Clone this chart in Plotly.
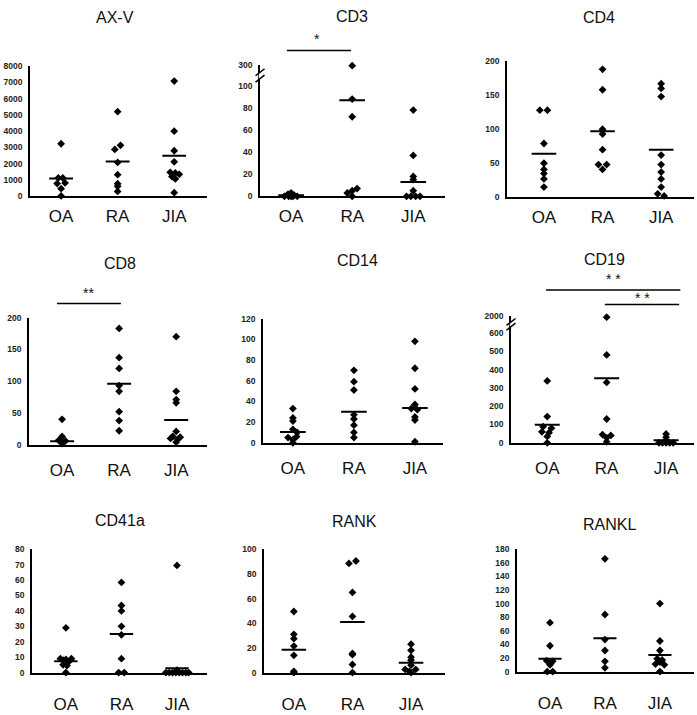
import plotly.graph_objects as go

W, H = 697, 715

groups = ["OA", "RA", "JIA"]

# ---------------- data ----------------
axv_oa = [3230, 1130, 1130, 820, 780, 470, 20]
axv_ra = [5200, 3130, 2880, 2080, 1330, 770, 610, 300]
axv_jia = [7080, 4000, 2800, 2120, 1470, 1430, 1350, 1210, 1070, 220]
axv_mean = [1090, 2140, 2490]

cd3_oa = [3, 2, 1, 0, 0, 0, 0, 0]
cd3_ra = [295, 88, 72, 7, 5, 3, 0]
cd3_jia = [78, 37, 18, 15, 5, 0, 0, 0, 0]
cd3_mean = [1, 87, 13]

cd4_oa = [128, 128, 79, 50, 41, 35, 27, 15]
cd4_ra = [188, 158, 100, 93, 70, 48, 48, 41]
cd4_jia = [167, 160, 148, 62, 48, 37, 27, 15, 5, 2]
cd4_mean = [64, 97, 70]

cd8_oa = [40, 13, 7, 6, 5, 2]
cd8_ra = [183, 137, 120, 93, 84, 52, 38, 22]
cd8_jia = [170, 84, 71, 66, 21, 13, 12, 10, 9, 4]
cd8_mean = [5.5, 96, 39]

cd14_oa = [33, 24, 21, 13, 10, 5, 6, 3, 0]
cd14_ra = [70, 59, 51, 27, 23, 17, 10, 5]
cd14_jia = [98, 72, 52, 37, 33, 32, 25, 22, 1]
cd14_mean = [10.5, 30, 33.5]

cd19_oa = [338, 143, 88, 80, 60, 55, 35, 0]
cd19_ra = [1870, 480, 330, 130, 45, 40, 27, 5]
cd19_jia = [48, 30, 12, 3, 0, 0, 0, 0, 0]
cd19_mean = [98, 352, 14]

cd41a_oa = [29, 9, 9, 8.5, 8, 7, 5, 4.5, 0]
cd41a_ra = [58.5, 43.5, 40, 30, 24.5, 9, 0, 0]
cd41a_jia = [69.5, 1.5, 0, 0, 0, 0, 0, 0, 0, 0]
cd41a_mean = [7.3, 25, 2.7]

rank_oa = [49.5, 31, 27.5, 21.5, 14, 1, 0]
rank_ra = [88.5, 90.5, 65, 45.5, 15.5, 14.5, 6.5, 0]
rank_jia = [23, 18, 12.5, 10, 6, 2.5, 2.5, 1, 0]
rank_mean = [18.5, 41, 8]

rankl_oa = [72, 38, 16, 15, 10, 0, 0]
rankl_ra = [166, 84, 47, 31, 15, 5.5]
rankl_jia = [100, 45, 31, 19, 17, 14, 11, 10, 0]
rankl_mean = [19, 49, 24.5]

# y tick values
axv_ticks = [0, 1000, 2000, 3000, 4000, 5000, 6000, 7000, 8000]
cd3_ticks = [0, 20, 40, 60, 80, 100, 300]
cd4_ticks = [0, 50, 100, 150, 200]
cd8_ticks = [0, 50, 100, 150, 200]
cd14_ticks = [0, 20, 40, 60, 80, 100, 120]
cd19_ticks = [0, 100, 200, 300, 400, 500, 600, 2000]
cd41a_ticks = [0, 10, 20, 30, 40, 50, 60, 70, 80]
rank_ticks = [0, 20, 40, 60, 80, 100]
rankl_ticks = [0, 20, 40, 60, 80, 100, 120, 140, 160, 180]

# ---------------- horizontal jitter (positions, kept apart) ----------------
jit = {
    "AX-V": [[0, -0.05, 0.03, 0.07, -0.07, 0, 0],
             [0, 0.05, -0.05, 0, 0, 0, 0, 0],
             [0, 0, 0, 0, -0.07, 0.02, 0.09, -0.04, 0.02, 0]],
    "CD3": [[0, -0.05, 0.05, -0.11, -0.04, 0.03, 0.1, 0],
            [0, 0, 0, 0.08, 0, -0.08, 0],
            [0, 0, 0, 0, 0, -0.11, -0.04, 0.04, 0.11]],
    "CD4": [[-0.07, 0.06, 0, 0, 0, 0, 0, 0],
            [0, 0, 0, 0, 0, -0.07, 0.07, 0],
            [0, 0, 0, 0, 0, 0, 0, 0, -0.06, 0.05]],
    "CD8": [[0, 0, -0.06, 0.06, 0, 0],
            [0, 0, 0, 0, 0, 0, 0, 0],
            [0, 0, 0, 0, 0, -0.06, 0.07, -0.1, 0.03, 0]],
    "CD14": [[0, 0, 0, 0, 0.07, -0.08, 0.06, 0, 0],
             [0, 0, 0, 0, 0, 0, 0, 0],
             [0, 0, 0, 0, -0.06, 0.04, 0, 0, 0]],
    "CD19": [[0, 0, -0.07, 0.07, -0.09, 0.03, 0, 0],
             [0, 0, 0, 0, -0.07, 0.07, 0, 0],
             [0, 0, 0, 0, -0.12, -0.06, 0, 0.06, 0.12]],
    "CD41a": [[0, -0.1, 0.1, 0, -0.05, 0.05, -0.05, 0.02, 0],
              [0, 0, 0, 0, 0, 0, -0.05, 0.05],
              [0, 0, -0.2, -0.14, -0.08, -0.02, 0.04, 0.1, 0.16, 0.21]],
    "RANK": [[0, 0, 0, 0, 0, 0, 0],
             [-0.06, 0.06, 0, 0, 0, 0, 0, 0],
             [0, 0, 0, 0, 0, -0.1, 0.08, -0.03, 0]],
    "RANKL": [[0, 0, -0.06, 0.05, 0, -0.05, 0.05],
              [0, 0, 0, 0, 0, 0],
              [0, 0, 0, -0.05, 0.04, 0, -0.08, 0.08, 0]],
}


# axis breaks: (last regular tick, broken tick value, compressed span)
def make_break(low, high, span):
    def f(v):
        return v if v <= low else low + (v - low) * span / (high - low)
    return f


ident = lambda v: v
cd3_map = make_break(100, 300, 18.7)
cd19_map = make_break(600, 2000, 95)

# panel layout in pixels: left, right, top, bottom, x-range, title centre, label standoff
panels = [
    dict(name="AX-V", data=[axv_oa, axv_ra, axv_jia], mean=axv_mean, ticks=axv_ticks, f=ident,
         box=(30, 207, 62, 194), xr=(0.45, 3.58), title=(115, 13), stand=3),
    dict(name="CD3", data=[cd3_oa, cd3_ra, cd3_jia], mean=cd3_mean, ticks=cd3_ticks, f=cd3_map,
         box=(260, 445, 61, 194), xr=(0.49, 3.52), title=(352, 12), stand=3),
    dict(name="CD4", data=[cd4_oa, cd4_ra, cd4_jia], mean=cd4_mean, ticks=cd4_ticks, f=ident,
         box=(507, 694, 57, 195), xr=(0.37, 3.56), title=(599, 13), stand=3),
    dict(name="CD8", data=[cd8_oa, cd8_ra, cd8_jia], mean=cd8_mean, ticks=cd8_ticks, f=ident,
         box=(29, 207, 317, 446), xr=(0.42, 3.54), title=(120, 262), stand=9),
    dict(name="CD14", data=[cd14_oa, cd14_ra, cd14_jia], mean=cd14_mean, ticks=cd14_ticks, f=ident,
         box=(263, 443, 318, 444), xr=(0.51, 3.46), title=(357, 259), stand=9),
    dict(name="CD19", data=[cd19_oa, cd19_ra, cd19_jia], mean=cd19_mean, ticks=cd19_ticks, f=cd19_map,
         box=(511, 694, 315, 444), xr=(0.39, 3.47), title=(604, 258), stand=9),
    dict(name="CD41a", data=[cd41a_oa, cd41a_ra, cd41a_jia], mean=cd41a_mean, ticks=cd41a_ticks, f=ident,
         box=(32, 207, 552, 677), xr=(0.39, 3.54), title=(120, 523), stand=15),
    dict(name="RANK", data=[rank_oa, rank_ra, rank_jia], mean=rank_mean, ticks=rank_ticks, f=ident,
         box=(264, 445, 552, 677), xr=(0.49, 3.58), title=(355, 524), stand=15),
    dict(name="RANKL", data=[rankl_oa, rankl_ra, rankl_jia], mean=rankl_mean, ticks=rankl_ticks, f=ident,
         box=(517, 694, 552, 676), xr=(0.40, 3.62), title=(609, 527), stand=15),
]

FONT = "Arial, Liberation Sans, sans-serif"

fig = go.Figure()
shapes = []
annotations = []


def to_px(p, x, y):
    l, r, t, b = p["box"]
    x0, x1 = p["xr"]
    ytop = p["f"](p["ticks"][-1])
    return (l + (x - x0) / (x1 - x0) * (r - l), b - y / ytop * (b - t))


def paper(px, py):
    return px / W, 1 - py / H


for i, p in enumerate(panels, start=1):
    xa = "x" if i == 1 else f"x{i}"
    ya = "y" if i == 1 else f"y{i}"
    f = p["f"]
    for gi, vals in enumerate(p["data"]):
        xs = [gi + 1 + o for o in jit[p["name"]][gi]]
        ys = [f(v) for v in vals]
        fig.add_trace(go.Scatter(
            x=xs, y=ys, mode="markers", xaxis=xa, yaxis=ya,
            marker=dict(symbol="diamond", size=6, color="black"),
            cliponaxis=False, showlegend=False, hoverinfo="y"))
        m = f(p["mean"][gi])
        fig.add_trace(go.Scatter(
            x=[gi + 1 - 0.21, gi + 1 + 0.21], y=[m, m], mode="lines",
            xaxis=xa, yaxis=ya, line=dict(color="black", width=2),
            showlegend=False, hoverinfo="skip"))

    l, r, t, b = p["box"]
    xd = [l / W, r / W]
    yd = [1 - b / H, 1 - t / H]
    fig.layout[f"xaxis{'' if i == 1 else i}"] = dict(
        domain=xd, range=list(p["xr"]), anchor=ya,
        tickmode="array", tickvals=[1, 2, 3], ticktext=groups,
        showline=True, linecolor="black", linewidth=1.8, mirror=False,
        showgrid=False, zeroline=False, ticks="", ticklabelstandoff=p["stand"],
        tickfont=dict(family=FONT, size=17, color="#111"), fixedrange=True)
    fig.layout[f"yaxis{'' if i == 1 else i}"] = dict(
        domain=yd, range=[0, f(p["ticks"][-1])], anchor=xa,
        tickmode="array", tickvals=[f(v) for v in p["ticks"]],
        ticktext=[str(v) for v in p["ticks"]],
        showline=True, linecolor="black", linewidth=1.8,
        showgrid=False, zeroline=False, ticks="", ticklabelstandoff=4,
        tickfont=dict(family=FONT, size=8.5, color="#222", weight="bold"),
        fixedrange=True)

    cx, cy = p["title"]
    annotations.append(dict(
        text=p["name"], x=cx / W, y=1 - cy / H, xref="paper", yref="paper",
        xanchor="center", yanchor="middle", showarrow=False,
        font=dict(family=FONT, size=16, color="#111")))

    # axis break marks
    if p["f"] is not ident:
        tk = p["ticks"]
        _, ya_lo = to_px(p, p["xr"][0], f(tk[-2]))
        _, ya_hi = to_px(p, p["xr"][0], f(tk[-1]))
        cyb = (ya_lo + ya_hi) / 2
        gap = 3.2 if i == 2 else 2.4
        ax_x = l
        x0p, y0p = paper(ax_x - 1.2, cyb - gap)
        x1p, y1p = paper(ax_x + 1.2, cyb + gap)
        shapes.append(dict(type="rect", xref="paper", yref="paper",
                           x0=x0p, x1=x1p, y0=y0p, y1=y1p,
                           fillcolor="white", line=dict(width=0)))
        for dy in (-gap, gap):
            a = paper(ax_x - 4.5, cyb + dy + 3.5)
            bb = paper(ax_x + 4.5, cyb + dy - 3.5)
            shapes.append(dict(type="line", xref="paper", yref="paper",
                               x0=a[0], y0=a[1], x1=bb[0], y1=bb[1],
                               line=dict(color="black", width=1.5)))

# significance bars: (panel index, x from, x to, bar y, label, label x, label y) in data units
sig = [
    (1, 0.93, 1.98, 132, "*", 1.43, 142),
    (3, 0.91, 2.03, 222, "**", 1.46, 239),
    (5, 0.98, 3.24, 835, "* *", 2.11, 895),
    (5, 1.97, 3.22, 755, "* *", 2.61, 793),
]
for pi, xa0, xa1, yb, lab, lx, ly in sig:
    p = panels[pi]
    a = paper(*to_px(p, xa0, yb))
    bb = paper(*to_px(p, xa1, yb))
    shapes.append(dict(type="line", xref="paper", yref="paper",
                       x0=a[0], y0=a[1], x1=bb[0], y1=bb[1],
                       line=dict(color="black", width=1.5)))
    lp = paper(*to_px(p, lx, ly))
    annotations.append(dict(text=lab, x=lp[0], y=lp[1], xref="paper", yref="paper",
                            xanchor="center", yanchor="middle", showarrow=False,
                            font=dict(family=FONT, size=14, color="#111")))

fig.update_layout(
    width=W, height=H, margin=dict(l=0, r=0, t=0, b=0),
    paper_bgcolor="white", plot_bgcolor="white",
    shapes=shapes, annotations=annotations, showlegend=False)

fig.write_html("out.html", config={"displayModeBar": False},
               post_script="document.body.style.margin='0';document.body.style.overflow='hidden';")
